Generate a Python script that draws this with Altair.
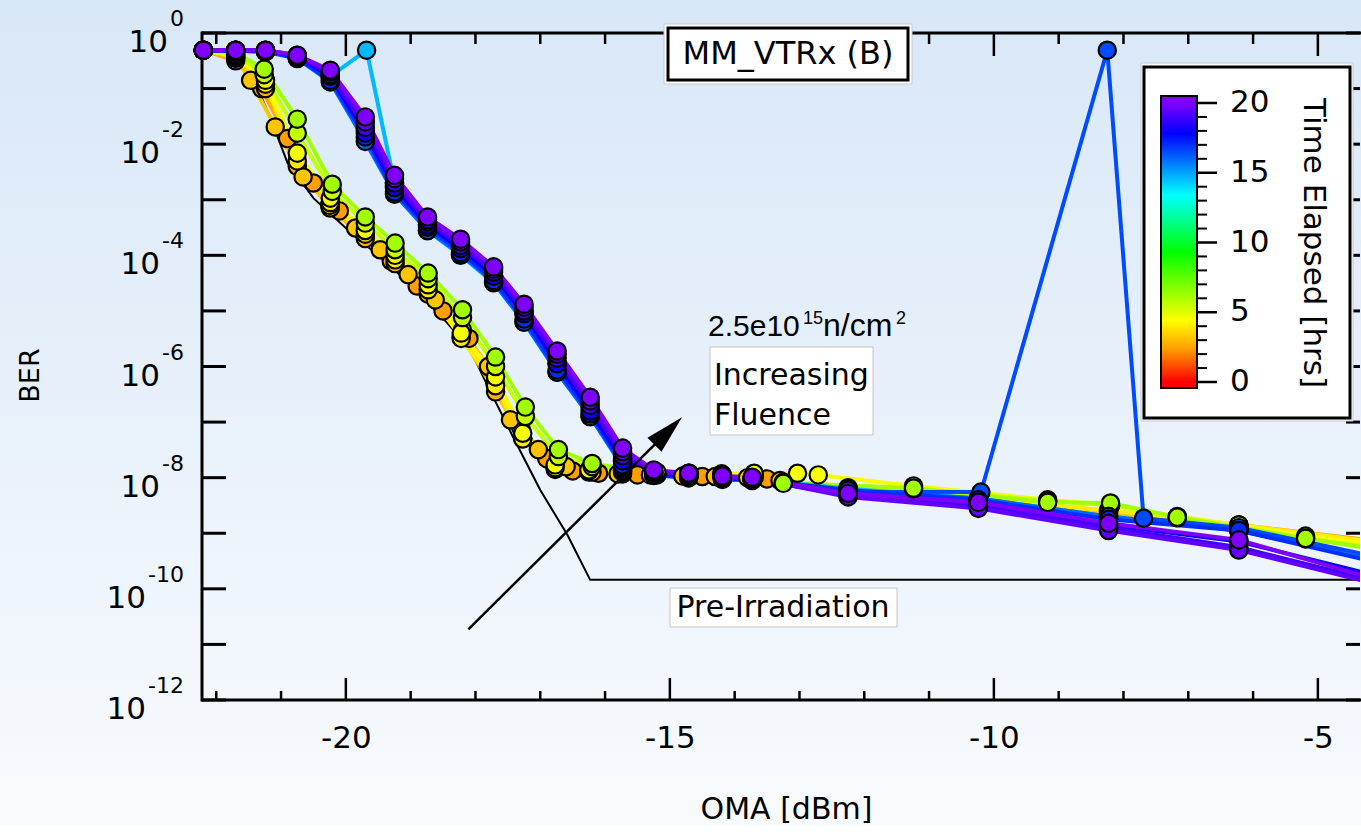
import altair as alt
import pandas as pd

W, H = 1158, 667
FONT = "DejaVu Sans"

# ---------------- values ----------------
X_DOMAIN = [-22.22, -4.35]
Y_DOMAIN = [1e-12, 1.0]

X_MAJOR = [-20, -15, -10, -5]
X_MINOR = [-22, -21, -19, -18, -17, -16, -14, -13, -12, -11, -9, -8, -7, -6]
Y_DECADES = [1e-12, 1e-11, 1e-10, 1e-9, 1e-8, 1e-7, 1e-6, 1e-5, 1e-4, 1e-3, 1e-2, 1e-1, 1.0]
Y_LABEL_VALUES = [1.0, 1e-2, 1e-4, 1e-6, 1e-8, 1e-10, 1e-12]
Y_LABEL_EXPS = ["0", "-2", "-4", "-6", "-8", "-10", "-12"]

# Pre-irradiation curve (black line, no markers)
PRE_OMA = [-22.21, -21.63, -21.37, -21.17, -20.90, -20.50, -19.93, -19.47, -18.96,
           -18.43, -18.08, -17.82, -17.42, -17.00, -16.58, -16.23, -3.80]
PRE_BER = [5.0e-1, 2.9e-1, 1.07e-1, 3.1e-2, 4.6e-3, 1.07e-3, 2.6e-4, 9.3e-5, 2.7e-5,
           6.0e-6, 2.0e-6, 4.7e-7, 5.4e-8, 6.0e-9, 9.3e-10, 1.45e-10, 1.45e-10]

# OMA grids shared by several scans
GRID_A = [-22.2, -21.7, -21.24, -20.75, -20.24, -19.7, -19.24, -18.73, -18.22, -17.69, -17.27, -16.77,
          -16.25, -15.73, -15.2, -14.7, -14.2, -13.7, -12.25, -10.24, -8.23, -6.22, -3.8]
GRID_G = [-22.2, -21.7, -21.26, -20.75, -20.21, -19.7, -19.24, -18.73, -18.2, -17.69, -17.23, -16.72,
          -16.2, -15.73, -15.25, -14.71, -14.19, -13.25, -11.24, -9.17, -8.2, -7.17, -5.19, -3.8]
LATE_OMA = [-22.2, -21.7, -21.24, -20.75, -20.24, -19.7, -19.25, -18.74, -18.23, -17.72, -17.25, -16.74,
            -16.23, -15.73, -15.25, -14.71, -14.19, -13.73, -12.25, -10.24, -8.23, -6.22, -3.8]

# Irradiated scans, one per elapsed time [hrs]
O24_T = 2.4
O24_OMA = [-22.2, -21.7, -21.3, -20.9, -20.5, -20.1, -19.7, -19.3, -18.9, -18.5, -18.1, -17.7,
           -17.3, -16.9, -16.5, -16.1, -15.5, -14.5, -13.5, -12.25, -10.24, -8.23, -6.22, -3.8]
O24_BER = [0.49, 0.316, 0.1, 0.0126, 2.0e-3, 6.3e-4, 2.4e-4, 7.9e-5, 2.8e-5, 1.0e-5, 3.2e-6, 5.0e-7,
           7.9e-8, 2.2e-8, 1.32e-8, 1.2e-8, 1.12e-8, 1.05e-8, 9.5e-9, 6.6e-9, 4.2e-9, 2.5e-9, 1.41e-9, 6.6e-10]

O28_T = 2.8
O28_BER = [0.49, 0.355, 0.1, 4.0e-3, 7.1e-4, 2.0e-4, 7.1e-5, 2.0e-5, 3.5e-6, 3.5e-7, 5.0e-8, 1.41e-8,
           1.26e-8, 1.17e-8, 1.12e-8, 1.07e-8, 1.05e-8, 1.0e-8, 6.0e-9, 3.8e-9, 2.2e-9, 1.26e-9, 5.6e-10]

O32_T = 3.2
O32_OMA = [-22.2, -21.7, -21.47, -21.09, -20.66, -20.25, -19.85, -19.47, -19.04, -18.62, -18.2, -17.8,
           -17.46, -17.03, -16.6, -16.2, -15.8, -15.3, -14.8, -14.3, -13.8, -13.3, -12.25, -10.24,
           -8.23, -6.22, -3.8]
O32_BER = [0.49, 0.355, 0.141, 0.0204, 2.57e-3, 7.9e-4, 3.1e-4, 1.26e-4, 4.5e-5, 1.58e-5, 4.5e-6, 1.0e-6,
           1.1e-7, 3.2e-8, 1.58e-8, 1.26e-8, 1.17e-8, 1.12e-8, 1.07e-8, 1.05e-8, 1.0e-8, 8.9e-9, 6.3e-9, 4.0e-9,
           2.4e-9, 1.32e-9, 6.3e-10]

Y40_T = 4.0
Y40_BER = [0.49, 0.38, 0.12, 5.0e-3, 8.9e-4, 2.4e-4, 8.3e-5, 2.4e-5, 3.2e-6, 4.5e-7, 5.0e-8, 1.51e-8,
           1.32e-8, 1.26e-8, 1.2e-8, 1.15e-8, 1.12e-8, 1.1e-8, 6.3e-9, 4.0e-9, 2.6e-9, 1.41e-9, 6.3e-10]

Y46_T = 4.6
Y46_OMA = [-22.2, -21.7, -21.24, -20.75, -20.24, -19.7, -19.24, -18.73, -18.22, -17.69, -17.27, -16.77,
           -16.25, -15.73, -15.2, -14.7, -14.2, -13.7, -13.03, -12.71, -11.24, -9.17, -8.2, -7.17,
           -6.22, -5.19, -3.8]
Y46_BER = [0.49, 0.398, 0.141, 6.9e-3, 1.07e-3, 2.8e-4, 1.0e-4, 2.95e-5, 4.0e-6, 6.5e-7, 6.3e-8, 1.7e-8,
           1.38e-8, 1.32e-8, 1.26e-8, 1.2e-8, 1.17e-8, 1.2e-8, 1.2e-8, 1.12e-8, 7.1e-9, 4.0e-9, 3.2e-9, 2.0e-9,
           1.41e-9, 8.9e-10, 5.6e-10]

G55_T = 5.5
G55_BER = [0.49, 0.417, 0.178, 0.0158, 1.41e-3, 3.8e-4, 1.26e-4, 3.8e-5, 7.6e-6, 1.0e-6, 1.26e-7, 2.4e-8,
           1.58e-8, 1.38e-8, 1.26e-8, 1.17e-8, 1.1e-8, 8.3e-9, 6.3e-9, 3.8e-9, 3.2e-9, 1.9e-9, 7.9e-10, 5.0e-10]

G62_T = 6.2
G62_BER = [0.49, 0.447, 0.224, 0.0282, 1.9e-3, 4.9e-4, 1.66e-4, 4.8e-5, 1.05e-5, 1.48e-6, 1.86e-7, 3.2e-8,
           1.8e-8, 1.48e-8, 1.32e-8, 1.2e-8, 1.12e-8, 7.9e-9, 6.5e-9, 3.6e-9, 3.5e-9, 1.95e-9, 8.1e-10, 4.5e-10]

C146_T = 14.6
C146_OMA = [-22.2, -21.7, -21.24, -20.75, -20.24, -19.68, -19.25, -18.74, -18.23, -17.72, -17.25, -16.74,
            -16.23, -15.73, -15.25, -14.71, -14.19, -13.73, -12.25, -10.24, -8.23, -6.22, -3.8]
C146_BER = [0.49, 0.479, 0.468, 0.372, 0.166, 0.49, 2.0e-3, 2.8e-4, 1.0e-4, 3.2e-5, 6.3e-6, 7.9e-7,
            1.26e-7, 2.0e-8, 1.2e-8, 1.07e-8, 1.0e-8, 9.5e-9, 6.3e-9, 4.2e-9, 2.0e-9, 1.12e-9, 2.8e-10]

B160_T = 16.0
B160_BER = [0.49, 0.479, 0.457, 0.347, 0.132, 0.0112, 1.26e-3, 2.8e-4, 1.05e-4, 3.3e-5, 6.3e-6, 7.9e-7,
            1.26e-7, 1.58e-8, 1.1e-8, 1.0e-8, 9.3e-9, 8.9e-9, 6.0e-9, 4.2e-9, 2.0e-9, 1.12e-9, 2.8e-10]

B165_T = 16.5
B165_OMA = [-22.2, -21.7, -21.24, -20.75, -20.24, -19.7, -19.25, -18.74, -18.23, -17.72, -17.25, -16.74,
            -16.23, -15.73, -15.25, -14.71, -14.19, -13.73, -12.25, -10.2, -8.25, -7.69, -6.22, -3.8]
B165_BER = [0.49, 0.49, 0.479, 0.38, 0.158, 0.0178, 1.78e-3, 3.5e-4, 1.32e-4, 4.2e-5, 8.9e-6, 1.12e-6,
            1.78e-7, 2.2e-8, 1.2e-8, 1.05e-8, 9.8e-9, 9.3e-9, 5.6e-9, 5.5e-9, 0.49, 1.86e-9, 1.26e-9, 3.2e-10]

B170_T = 17.0
B170_BER = [0.49, 0.479, 0.468, 0.355, 0.141, 0.0135, 1.38e-3, 3.2e-4, 1.12e-4, 3.5e-5, 7.1e-6, 8.7e-7,
            1.41e-7, 1.7e-8, 1.12e-8, 1.0e-8, 9.5e-9, 9.3e-9, 6.0e-9, 4.0e-9, 1.78e-9, 1.12e-9, 2.5e-10]

B180_T = 18.0
B180_BER = [0.49, 0.49, 0.479, 0.38, 0.166, 0.0158, 1.66e-3, 3.5e-4, 1.32e-4, 4.2e-5, 8.9e-6, 1.12e-6,
            1.58e-7, 2.0e-8, 1.2e-8, 1.07e-8, 1.0e-8, 9.3e-9, 5.0e-9, 3.5e-9, 1.41e-9, 7.1e-10, 1.41e-10]

P19_T = 19.0
P19_BER = [0.49, 0.49, 0.49, 0.38, 0.178, 0.02, 2.0e-3, 4.0e-4, 1.51e-4, 5.0e-5, 1.0e-5, 1.41e-6,
           2.0e-7, 2.5e-8, 1.26e-8, 1.12e-8, 1.0e-8, 9.5e-9, 4.8e-9, 3.2e-9, 1.26e-9, 5.6e-10, 1.12e-10]

P195_T = 19.5
P195_BER = [0.49, 0.49, 0.49, 0.398, 0.2, 0.0251, 2.4e-3, 4.4e-4, 1.74e-4, 5.6e-5, 1.17e-5, 1.66e-6,
            2.4e-7, 2.95e-8, 1.32e-8, 1.15e-8, 1.02e-8, 1.0e-8, 4.5e-9, 2.8e-9, 1.12e-9, 5.0e-10, 1.0e-10]

P20_T = 20.0
P20_BER = [0.49, 0.49, 0.49, 0.398, 0.214, 0.0309, 2.75e-3, 4.9e-4, 1.95e-4, 6.2e-5, 1.32e-5, 1.9e-6,
           2.8e-7, 3.4e-8, 1.38e-8, 1.2e-8, 1.07e-8, 1.02e-8, 5.2e-9, 3.6e-9, 1.51e-9, 7.6e-10, 1.17e-10]

SERIES = [
    ("s01", O24_T, O24_OMA, O24_BER),
    ("s02", O28_T, GRID_A, O28_BER),
    ("s03", O32_T, O32_OMA, O32_BER),
    ("s04", Y40_T, GRID_A, Y40_BER),
    ("s05", Y46_T, Y46_OMA, Y46_BER),
    ("s06", G55_T, GRID_G, G55_BER),
    ("s07", G62_T, GRID_G, G62_BER),
    ("s08", C146_T, C146_OMA, C146_BER),
    ("s09", B160_T, LATE_OMA, B160_BER),
    ("s10", B165_T, B165_OMA, B165_BER),
    ("s11", B170_T, LATE_OMA, B170_BER),
    ("s12", B180_T, LATE_OMA, B180_BER),
    ("s13", P19_T, LATE_OMA, P19_BER),
    ("s14", P195_T, LATE_OMA, P195_BER),
    ("s15", P20_T, LATE_OMA, P20_BER),
]

# colour map (time elapsed, hrs)
T_STOPS = [0, 2.4, 4.4, 9.3, 13.4, 17.8, 20]
C_STOPS = ["#ff0000", "#ffa000", "#ffff00", "#00ff00", "#00ffff", "#0000ff", "#8000ff"]
CB_MAJOR = [0, 5, 10, 15, 20]
CB_MINOR = [1, 2, 3, 4, 6, 7, 8, 9, 11, 12, 13, 14, 16, 17, 18, 19]
CB_SPAN = [-0.43, 20.5]

# arrow annotation (tail, head centre)
ARROW_OMA = [-18.11, -15.025]
ARROW_BER = [1.86e-11, 6.9e-8]

# ---------------- tables ----------------
rows = []
for name, t, xs, ys in SERIES:
    assert len(xs) == len(ys), name
    for i, (x, y) in enumerate(zip(xs, ys)):
        rows.append({"series": name, "t": t, "OMA": x, "BER": y, "i": i})
df = pd.DataFrame(rows).sort_values(["t", "i"]).reset_index(drop=True)
df_pts = df[df["OMA"] <= X_DOMAIN[1]].reset_index(drop=True)
pre_df = pd.DataFrame({"OMA": PRE_OMA, "BER": PRE_BER, "i": range(len(PRE_OMA))})
ONE = pd.DataFrame({"a": [0]})

XS = alt.Scale(domain=X_DOMAIN, nice=False, zero=False)
YS = alt.Scale(type="log", domain=Y_DOMAIN, nice=False)
CS = alt.Scale(domain=T_STOPS, range=C_STOPS, interpolate="rgb")

AX_X = alt.Axis(values=X_MAJOR, labelExpr="'' + datum.value", ticks=False, tickSize=0,
                domain=False, grid=False, labelFont=FONT, labelFontSize=31, labelColor="black",
                labelPadding=23, title="OMA [dBm]", titleFont=FONT, titleFontSize=30,
                titleFontWeight="normal", titleColor="black", titleX=584, titleY=109,
                titleBaseline="middle", zindex=1)
AX_Y = alt.Axis(labels=False, ticks=False, tickSize=0, domain=False, grid=False,
                title="BER", titleFont=FONT, titleFontSize=27, titleFontWeight="normal",
                titleColor="black", titleX=-172, titleY=342, titleBaseline="middle", zindex=1)


def X(f):
    return alt.X(f, type="quantitative", scale=XS, axis=AX_X)


def Y(f):
    return alt.Y(f, type="quantitative", scale=YS, axis=AX_Y)


def text(txt, px, py, size, align="left", baseline="alphabetic", font=FONT, angle=0):
    return alt.Chart(ONE).mark_text(text=txt, align=align, baseline=baseline, fontSize=size,
                                    font=font, color="black", angle=angle).encode(
        x=alt.value(px), y=alt.value(py))


def box(x0, y0, x1, y1, stroke, sw, fill="white"):
    return alt.Chart(ONE).mark_rect(fill=fill, stroke=stroke, strokeWidth=sw).encode(
        x=alt.value(x0), x2=alt.value(x1), y=alt.value(y0), y2=alt.value(y1))


def hline(x0, x1, y, sw=3):
    return alt.Chart(ONE).mark_rule(color="black", strokeWidth=sw).encode(
        x=alt.value(x0), x2=alt.value(x1), y=alt.value(y))


BG = alt.LinearGradient(gradient="linear",
                        stops=[alt.GradientStop(color="#d8e7f7", offset=0),
                               alt.GradientStop(color="#f9fbfe", offset=1)],
                        x1=0, x2=0, y1=0, y2=1)
bg = alt.Chart(ONE).mark_rect(fill=BG).encode(
    x=alt.value(-210), x2=alt.value(W + 20), y=alt.value(-40), y2=alt.value(H + 150))

frame_top = hline(0, W + 5, 0)
frame_bottom = hline(0, W + 5, H)
frame_left = alt.Chart(ONE).mark_rule(color="black", strokeWidth=3).encode(
    x=alt.value(0), y=alt.value(-1.5), y2=alt.value(H + 1.5))

xmaj = pd.DataFrame({"v": X_MAJOR})
xmin = pd.DataFrame({"v": X_MINOR})
ydec = pd.DataFrame({"v": Y_DECADES})


def xticks(d, y0, y1):
    return alt.Chart(d).mark_rule(color="black", strokeWidth=2.5).encode(
        x=X("v"), y=alt.value(y0), y2=alt.value(y1))


ticks = [
    xticks(xmaj, H, H - 22), xticks(xmin, H, H - 9),
    xticks(xmaj, 0, 23), xticks(xmin, 0, 11),
    alt.Chart(ydec).mark_rule(color="black", strokeWidth=3).encode(
        y=Y("v"), x=alt.value(0), x2=alt.value(24)),
    alt.Chart(ydec).mark_rule(color="black", strokeWidth=3).encode(
        y=Y("v"), x=alt.value(W - 14), x2=alt.value(W)),
]

pre = alt.Chart(pre_df).mark_line(color="black", strokeWidth=2, clip=True).encode(
    x=X("OMA"), y=Y("BER"), order="i:Q")

lines = alt.Chart(df).mark_line(strokeWidth=4, clip=True).encode(
    x=X("OMA"), y=Y("BER"),
    color=alt.Color("t:Q", scale=CS, legend=None),
    detail="series:N", order="i:Q")

pts = alt.Chart(df_pts).mark_circle(size=300, stroke="black", strokeWidth=2.2, opacity=1).encode(
    x=X("OMA"), y=Y("BER"),
    fill=alt.Fill("t:Q", scale=CS, legend=None),
    order=alt.Order("t:Q"))

arrow_df = pd.DataFrame({"x0": [ARROW_OMA[0]], "x1": [ARROW_OMA[1]],
                         "y0": [ARROW_BER[0]], "y1": [ARROW_BER[1]]})
arrow = alt.Chart(arrow_df).mark_rule(color="black", strokeWidth=2.5).encode(
    x=X("x0"), x2=alt.X2("x1"), y=Y("y0"), y2=alt.Y2("y1"))
head = alt.Chart(arrow_df).mark_point(shape="M0,-1L0.51,1L-0.51,1Z", size=1521, angle=45,
                                      filled=True, fill="black", opacity=1, strokeWidth=0).encode(
    x=X("x1"), y=Y("y1"))

# y tick labels: "10" with raised exponent
ylab = pd.DataFrame({"v": Y_LABEL_VALUES, "exp": Y_LABEL_EXPS, "base": ["10"] * len(Y_LABEL_EXPS)})
ylab["lx"] = [-20 - 22 * (0.361 * e.count("-") + 0.636 * (len(e) - e.count("-"))) for e in Y_LABEL_EXPS]
ylab_base = alt.Chart(ylab).mark_text(align="right", baseline="alphabetic", dy=19, fontSize=31,
                                      font=FONT, color="black").encode(
    x=alt.X("lx:Q", scale=None, axis=None), y=Y("v"), text="base:N")
ylab_exp = alt.Chart(ylab).mark_text(align="right", baseline="alphabetic", dy=-7, fontSize=22,
                                     font=FONT, color="black").encode(
    x=alt.value(-18), y=Y("v"), text="exp:N")

annotations = [
    box(508, 314, 671, 402, "#c4c4c4", 1),
    text("Increasing", 512, 352, 30),
    text("Fluence", 512, 392, 30),
    box(468, 555, 695, 594, "#c4c4c4", 1),
    text("Pre-Irradiation", 581, 575, 30, align="center", baseline="middle"),
    text("2.5e10", 506, 303, 30, font="Liberation Sans"),
    text("15", 601, 291, 18, font="Liberation Sans"),
    text("n/cm", 621, 303, 32, font="Liberation Sans"),
    text("2", 694, 291, 18, font="Liberation Sans"),
    box(462, -9, 710, 51, "#c8c8c8", 1),
    box(466, -5, 706, 47, "black", 3),
    text("MM_VTRx (B)", 586, 21, 32, align="center", baseline="middle"),
    box(939, 30, 1151, 388, "#c8c8c8", 1),
    box(942, 34, 1148, 385, "black", 3),
]

main = alt.layer(bg, frame_top, frame_bottom, frame_left, *ticks, pre, lines, pts, arrow, head,
                 *annotations, ylab_base, ylab_exp)

# ---------------- colour bar (legend) ----------------
CBS = alt.Scale(domain=[0, 20], range=[349, 70])
span = CB_SPAN[1] - CB_SPAN[0]
CB_GRAD = alt.LinearGradient(
    gradient="linear",
    stops=[alt.GradientStop(color=c, offset=(t - CB_SPAN[0]) / span) for t, c in zip(T_STOPS, C_STOPS)],
    x1=0, x2=0, y1=1, y2=0)
cb_bar = alt.Chart(pd.DataFrame({"lo": [CB_SPAN[0]], "hi": [CB_SPAN[1]]})).mark_rect(
    fill=CB_GRAD, stroke="black", strokeWidth=2).encode(
    x=alt.value(959), x2=alt.value(995),
    y=alt.Y("lo:Q", scale=CBS, axis=None), y2=alt.Y2("hi"))
cb_major = alt.Chart(pd.DataFrame({"v": CB_MAJOR})).mark_rule(color="black", strokeWidth=2.5).encode(
    y=alt.Y("v:Q", scale=CBS, axis=None), x=alt.value(995), x2=alt.value(1015))
cb_minor = alt.Chart(pd.DataFrame({"v": CB_MINOR})).mark_rule(color="black", strokeWidth=2).encode(
    y=alt.Y("v:Q", scale=CBS, axis=None), x=alt.value(995), x2=alt.value(1005))
cb_labels = alt.Chart(pd.DataFrame({"v": CB_MAJOR})).mark_text(
    align="left", baseline="middle", fontSize=31, font=FONT, color="black").encode(
    y=alt.Y("v:Q", scale=CBS, axis=None), x=alt.value(1028), text="v:Q")
cb_title = text("Time Elapsed [hrs]", 1111, 210, 31, align="center", baseline="middle", angle=90)

cbar = alt.layer(cb_bar, cb_major, cb_minor, cb_labels, cb_title)

chart = alt.layer(main, cbar).resolve_scale(y="independent").properties(
    width=W, height=H,
    autosize=alt.AutoSizeParams(type="none"),
    padding={"left": 202, "top": 33, "right": 1, "bottom": 126},
    background="#e8f1fb",
).configure_view(stroke=None)

chart.save("out.html", embed_options={"renderer": "svg", "actions": False})
